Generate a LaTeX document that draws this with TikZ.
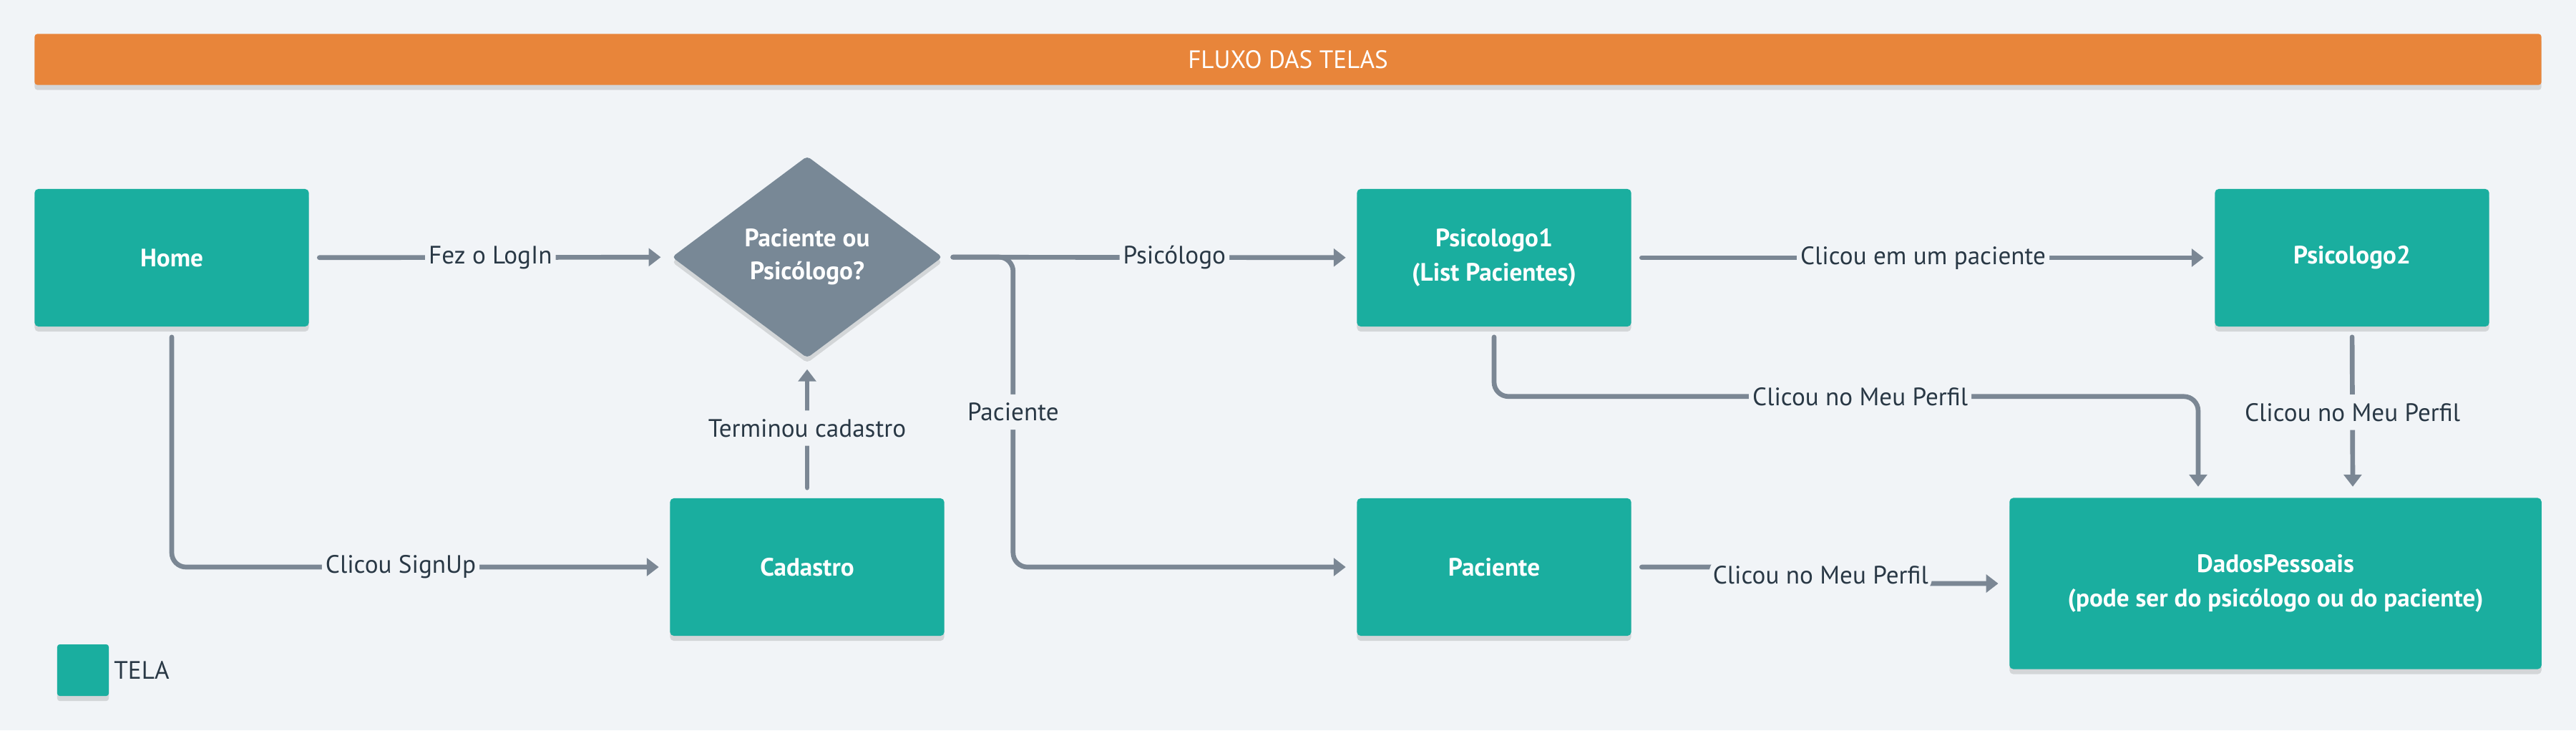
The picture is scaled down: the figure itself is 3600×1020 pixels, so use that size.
\documentclass[tikz,border=0pt]{standalone}
\usepackage{fontspec}
\setmainfont{PT Sans}
\usetikzlibrary{arrows.meta, shapes.geometric, shadows, positioning}
\definecolor{fundo}{HTML}{F1F4F7}
\definecolor{tela}{HTML}{1AAE9F}
\definecolor{decisao}{HTML}{788896}
\definecolor{faixa}{HTML}{E8853A}
\definecolor{linha}{HTML}{7B8794}
\definecolor{texto}{HTML}{293845}

\begin{document}
\begin{tikzpicture}[x=0.01cm, y=-0.01cm,
    sombra/.style={drop shadow={shadow xshift=0pt, shadow yshift=-2pt, opacity=0.12, fill=black}},
    tela/.style={fill=tela, rounded corners=1.5pt, sombra, text=white, align=center,
      font=\fontsize{10}{13.5}\selectfont\bfseries, minimum width=3.83cm, minimum height=1.92cm},
    decis/.style={diamond, fill=decisao, rounded corners=1.5pt, sombra, text=white, align=center,
      font=\fontsize{10}{13}\selectfont\bfseries, minimum width=3.78cm, minimum height=2.82cm, inner sep=0pt},
    lbl/.style={fill=fundo, text=texto, inner xsep=0.05cm, inner ysep=0.12cm, font=\fontsize{10}{12}\selectfont},
    conn/.style={draw=linha, line width=1.9pt, line cap=round, rounded corners=0.2cm,
      -{Triangle[length=4.8pt, width=7pt]}, shorten >=0.15cm, shorten <=0.14cm}]
    \fill[fundo] (0,0) rectangle (3600,1020);
    \node[fill=faixa, rounded corners=1pt, sombra, text=white, font=\fontsize{10}{12}\selectfont,
      minimum width=35.01cm, minimum height=0.71cm] (titulo) at (1800,83) {FLUXO DAS TELAS};

    % telas
    \node[tela] (home) at (240,360) {Home};
    \node[decis] (dec) at (1128,359) {Paciente ou\\Psicólogo?};
    \node[tela] (cad) at (1128,792) {Cadastro};
    \node[tela] (psi1) at (2088,360) {Psicologo1\\(List Pacientes)};
    \node[tela] (psi2) at (3287,360) {Psicologo2};
    \node[tela] (pac) at (2088,792) {Paciente};
    \node[tela, minimum width=7.43cm, minimum height=2.39cm] (dados) at (3180,815)
      {DadosPessoais\\(pode ser do psicólogo ou do paciente)};

    % legenda
    \node[fill=tela, rounded corners=1pt, sombra, minimum size=0.72cm, inner sep=0pt] (leg) at (116,936) {};
    \node[text=texto, font=\fontsize{10}{12}\selectfont, inner sep=0.06cm, right=0pt of leg] (legtxt) {TELA};

    % fluxos
    \draw[conn] (home) -- node[lbl] {Fez o LogIn} (dec);
    \draw[conn] (home.south) |- node[lbl, pos=0.73] {Clicou SignUp} (cad.west);
    \draw[conn] (cad) -- node[lbl] {Terminou cadastro} (dec);
    \draw[conn] (dec) -- node[lbl, pos=0.56] {Psicólogo} (psi1);
    \draw[conn] (dec.east) -- ++(98,0) |- node[lbl, pos=0.25] {Paciente} (pac.west);
    \draw[conn] (psi1) -- node[lbl] {Clicou em um paciente} (psi2);
    \draw[conn] (psi1.south) -- ++(0,97) -| node[lbl, pos=0.26] {Clicou no Meu Perfil} ([xshift=-1.08cm]dados.north);
    \draw[conn] (psi2.south) -- node[lbl] {Clicou no Meu Perfil} ([xshift=1.08cm]dados.north);
    \draw[conn] (pac.east) -- ++(264,0) |- node[lbl, pos=0.25] {Clicou no Meu Perfil} (dados.west);
\end{tikzpicture}
\end{document}
